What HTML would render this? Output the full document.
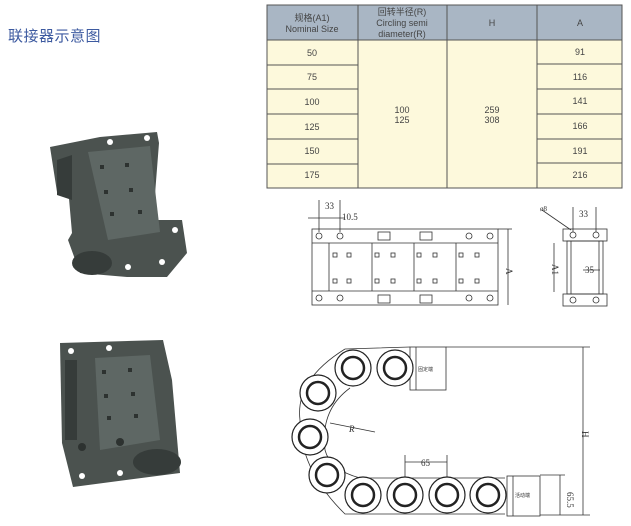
<!DOCTYPE html>
<html><head><meta charset="utf-8"><style>
body{margin:0;background:#fff;width:631px;height:526px;overflow:hidden;position:relative;font-family:"Liberation Sans","Noto Sans CJK SC",sans-serif}
.t{position:absolute;left:8px;top:25px;font-size:15px;color:#3d5aa0;font-family:"Liberation Sans","Noto Sans CJK SC",sans-serif;letter-spacing:0.5px}
</style></head><body>
<div class="t">联接器示意图</div>
<svg width="631" height="526" style="position:absolute;left:0;top:0" font-family="Liberation Sans, Noto Sans CJK SC, sans-serif">
<!-- table -->
<rect x="267" y="5" width="355" height="35" fill="#a9b6c4"/>
<rect x="267" y="40" width="355" height="148" fill="#fdf9dc"/>
<g stroke="#555" stroke-width="1" fill="none">
<rect x="267" y="5" width="355" height="183"/>
<line x1="358" y1="5" x2="358" y2="188"/><line x1="447" y1="5" x2="447" y2="188"/><line x1="537" y1="5" x2="537" y2="188"/>
<line x1="267" y1="40" x2="622" y2="40"/>
<line x1="267" y1="65" x2="358" y2="65"/><line x1="267" y1="89" x2="358" y2="89"/><line x1="267" y1="114" x2="358" y2="114"/><line x1="267" y1="139" x2="358" y2="139"/><line x1="267" y1="164" x2="358" y2="164"/>
<line x1="537" y1="64" x2="622" y2="64"/><line x1="537" y1="89" x2="622" y2="89"/><line x1="537" y1="114" x2="622" y2="114"/><line x1="537" y1="139" x2="622" y2="139"/><line x1="537" y1="163" x2="622" y2="163"/>
</g>
<g font-size="9" fill="#444" text-anchor="middle">
<text x="312" y="21">规格(A1)</text><text x="312" y="32">Nominal Size</text>
<text x="402" y="15">回转半径(R)</text><text x="402" y="26">Circling semi</text><text x="402" y="37">diameter(R)</text>
<text x="492" y="26">H</text><text x="580" y="26">A</text>
<text x="312" y="56">50</text><text x="312" y="80">75</text><text x="312" y="105">100</text><text x="312" y="130">125</text><text x="312" y="154">150</text><text x="312" y="178">175</text>
<text x="402" y="113">100</text><text x="402" y="123">125</text>
<text x="492" y="113">259</text><text x="492" y="123">308</text>
<text x="580" y="55">91</text><text x="580" y="80">116</text><text x="580" y="104">141</text><text x="580" y="129">166</text><text x="580" y="154">191</text><text x="580" y="178">216</text>
</g>
<!-- photos -->
<g fill="#4b524f">
<polygon points="50,147 100,137 157,132 159,143 153,220 182,220 187,253 167,277 127,277 80,273 68,240 72,233 68,187 57,192"/>
<polygon points="60,343 163,340 172,380 180,473 73,487 62,443"/>
</g>
<g fill="#5e6764">
<polygon points="88,152 150,146 160,232 108,240"/>
<polygon points="95,358 150,355 160,440 100,450"/>
</g>
<g fill="#363c3a"><ellipse cx="92" cy="263" rx="20" ry="12"/><ellipse cx="157" cy="462" rx="24" ry="13"/><polygon points="57,160 72,155 72,200 57,195"/><rect x="65" y="360" width="12" height="80"/></g>
<g fill="#2d3230"><rect x="100" y="165" width="4" height="4"/><rect x="125" y="163" width="4" height="4"/><rect x="104" y="190" width="4" height="4"/><rect x="129" y="188" width="4" height="4"/><rect x="110" y="212" width="4" height="4"/><rect x="138" y="210" width="4" height="4"/>
<rect x="102" y="370" width="4" height="4"/><rect x="128" y="368" width="4" height="4"/><rect x="104" y="394" width="4" height="4"/><rect x="131" y="392" width="4" height="4"/><rect x="107" y="416" width="4" height="4"/><rect x="134" y="414" width="4" height="4"/>
<circle cx="82" cy="447" r="4"/><circle cx="120" cy="442" r="4"/></g>
<g fill="#fff"><circle cx="110" cy="142" r="3"/><circle cx="147" cy="138" r="3"/><circle cx="175" cy="230" r="3"/><circle cx="162" cy="262" r="3"/><circle cx="128" cy="267" r="3"/><circle cx="71" cy="351" r="3"/><circle cx="109" cy="348" r="3"/><circle cx="82" cy="476" r="3"/><circle cx="120" cy="473" r="3"/></g>
<!-- top drawing left view -->
<g stroke="#333" stroke-width="0.8" fill="none">
<rect x="312" y="229" width="186" height="76"/>
<line x1="312" y1="243" x2="498" y2="243"/><line x1="312" y1="291" x2="498" y2="291"/>
<line x1="329" y1="243" x2="329" y2="291"/><line x1="372" y1="243" x2="372" y2="291"/><line x1="414" y1="243" x2="414" y2="291"/><line x1="456" y1="243" x2="456" y2="291"/>
<circle cx="319" cy="236" r="3"/><circle cx="340" cy="236" r="3"/><circle cx="469" cy="236" r="3"/><circle cx="490" cy="236" r="3"/>
<circle cx="319" cy="298" r="3"/><circle cx="340" cy="298" r="3"/><circle cx="469" cy="298" r="3"/><circle cx="490" cy="298" r="3"/>
<rect x="378" y="232" width="12" height="8"/><rect x="420" y="232" width="12" height="8"/><rect x="378" y="295" width="12" height="8"/><rect x="420" y="295" width="12" height="8"/>
<rect x="333" y="253" width="4" height="4"/><rect x="347" y="253" width="4" height="4"/><rect x="375" y="253" width="4" height="4"/><rect x="391" y="253" width="4" height="4"/><rect x="417" y="253" width="4" height="4"/><rect x="433" y="253" width="4" height="4"/><rect x="459" y="253" width="4" height="4"/><rect x="475" y="253" width="4" height="4"/>
<rect x="333" y="279" width="4" height="4"/><rect x="347" y="279" width="4" height="4"/><rect x="375" y="279" width="4" height="4"/><rect x="391" y="279" width="4" height="4"/><rect x="417" y="279" width="4" height="4"/><rect x="433" y="279" width="4" height="4"/><rect x="459" y="279" width="4" height="4"/><rect x="475" y="279" width="4" height="4"/>
<line x1="319" y1="200" x2="319" y2="232"/><line x1="340" y1="200" x2="340" y2="232"/><line x1="308" y1="218" x2="345" y2="218"/>
<line x1="508" y1="229" x2="508" y2="305"/><line x1="498" y1="229" x2="512" y2="229"/>
<rect x="563" y="229" width="44" height="12"/><rect x="563" y="294" width="44" height="12"/>
<rect x="567" y="241" width="36" height="53"/><line x1="571" y1="241" x2="571" y2="294"/><line x1="599" y1="241" x2="599" y2="294"/>
<circle cx="573" cy="235" r="3"/><circle cx="596" cy="235" r="3"/><circle cx="573" cy="300" r="3"/><circle cx="596" cy="300" r="3"/>
<line x1="554" y1="243" x2="554" y2="292"/><line x1="573" y1="207" x2="573" y2="232"/><line x1="596" y1="207" x2="596" y2="232"/><line x1="542" y1="210" x2="571" y2="230"/>
<line x1="583" y1="270" x2="600" y2="270"/>
</g>
<g font-size="9" fill="#333" font-family="Liberation Serif, serif">
<text x="325" y="209">33</text><text x="342" y="220">10.5</text><text x="510" y="272" transform="rotate(90 510 268)">A</text>
<text x="540" y="211" font-size="7">ø8</text><text x="579" y="217">33</text><text x="585" y="273">35</text><text x="548" y="268" transform="rotate(90 552 268)">A1</text>
</g>
<!-- chain -->
<g stroke="#333" stroke-width="0.8" fill="none">
<path d="M345,349 L410,347 M300,420 Q295,380 345,349 M300,420 Q300,470 345,514 L505,514 M350,388 Q320,410 325,450 Q330,470 360,478 L505,478"/>
<rect x="410" y="347" width="36" height="43"/><line x1="416" y1="347" x2="416" y2="390"/>
<rect x="507" y="476" width="33" height="40"/><line x1="513" y1="476" x2="513" y2="516"/>
<line x1="446" y1="347" x2="590" y2="347"/><line x1="540" y1="515" x2="590" y2="515"/><line x1="540" y1="475" x2="565" y2="475"/>
<line x1="583" y1="347" x2="583" y2="515"/><line x1="560" y1="475" x2="560" y2="515"/>
<line x1="405" y1="455" x2="405" y2="478"/><line x1="447" y1="455" x2="447" y2="478"/><line x1="405" y1="462" x2="447" y2="462"/>
<line x1="330" y1="423" x2="375" y2="432"/>
</g>
<g fill="#fff" stroke="#222">
<g stroke-width="1.2">
<circle cx="353" cy="368" r="18"/><circle cx="395" cy="368" r="18"/><circle cx="318" cy="393" r="18"/><circle cx="310" cy="437" r="18"/><circle cx="327" cy="475" r="18"/><circle cx="363" cy="495" r="18"/><circle cx="405" cy="495" r="18"/><circle cx="447" cy="495" r="18"/><circle cx="488" cy="495" r="18"/>
</g>
<g stroke-width="2.5">
<circle cx="353" cy="368" r="11"/><circle cx="395" cy="368" r="11"/><circle cx="318" cy="393" r="11"/><circle cx="310" cy="437" r="11"/><circle cx="327" cy="475" r="11"/><circle cx="363" cy="495" r="11"/><circle cx="405" cy="495" r="11"/><circle cx="447" cy="495" r="11"/><circle cx="488" cy="495" r="11"/>
</g>
</g>
<g font-size="9" fill="#333" font-family="Liberation Serif, serif">
<text x="418" y="371" font-size="5">固定端</text><text x="515" y="497" font-size="5">活动端</text>
<text x="349" y="432" font-style="italic">R</text><text x="421" y="466">65</text>
<text x="586" y="435" transform="rotate(90 586 431)">H</text><text x="563" y="488" transform="rotate(90 563 492)">65.5</text>
</g>
</svg>
</body></html>
